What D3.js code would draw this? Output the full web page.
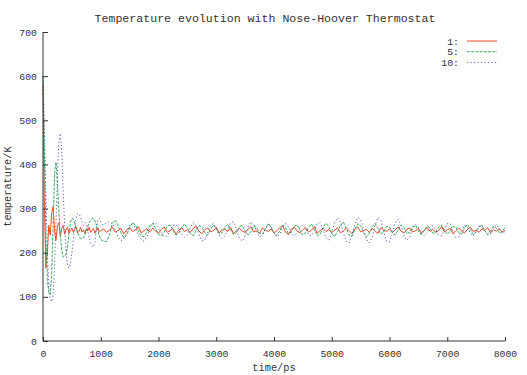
<!DOCTYPE html>
<html><head><meta charset="utf-8">
<script src="https://cdn.jsdelivr.net/npm/d3@7"></script>
<style>html,body{margin:0;padding:0;background:#fff;}svg{display:block;}</style>
</head><body>
<script>
const title = "Temperature evolution with Nose-Hoover Thermostat";
const xLabel = "time/ps";
const yLabel = "temperature/K";
const seriesNames = ["1:", "5:", "10:"];
const xTicks = [0,1000,2000,3000,4000,5000,6000,7000,8000];
const yTicks = [0,100,200,300,400,500,600,700];

const timeEarly = [0,25,50,75,100,125,150,175,200,225,250,275,300,325,350,375,400,425,450,475,500,525,550,575,600,625,650,675,700,725,750,775,800,825,850,875,900,925,950,975,1000];
const timeLate = [1050,1100,1150,1200,1250,1300,1350,1400,1450,1500,1550,1600,1650,1700,1750,1800,1850,1900,1950,2000,2050,2100,2150,2200,2250,2300,2350,2400,2450,2500,2550,2600,2650,2700,2750,2800,2850,2900,2950,3000,3050,3100,3150,3200,3250,3300,3350,3400,3450,3500,3550,3600,3650,3700,3750,3800,3850,3900,3950,4000,4050,4100,4150,4200,4250,4300,4350,4400,4450,4500,4550,4600,4650,4700,4750,4800,4850,4900,4950,5000,5050,5100,5150,5200,5250,5300,5350,5400,5450,5500,5550,5600,5650,5700,5750,5800,5850,5900,5950,6000,6050,6100,6150,6200,6250,6300,6350,6400,6450,6500,6550,6600,6650,6700,6750,6800,6850,6900,6950,7000,7050,7100,7150,7200,7250,7300,7350,7400,7450,7500,7550,7600,7650,7700,7750,7800,7850,7900,7950,8000];

const temp1 = [580,300,165,200,262,240,290,304,250,228,262,268,238,255,262,242,252,258,244,250,256,246,253,258,245,249,257,247,252,244,254,249,258,246,251,255,244,252,257,247,250,
254,246,251,258,247,250,255,243,252,257,
248,251,259,245,250,254,247,256,249,244,
253,258,246,250,255,242,251,257,248,252,
246,255,260,249,243,252,256,247,250,258,
245,251,254,248,257,243,250,255,249,246,
253,259,247,250,244,256,251,248,254,245,
250,257,262,246,241,253,258,249,245,252,
256,247,251,259,244,250,255,248,253,246,
251,257,245,249,256,250,243,254,258,247,
250,253,246,255,249,244,257,251,248,254,
246,252,258,249,245,253,256,247,250,255,
244,251,257,248,253,246,250,259,247,252,
255,243,250,256,249,245,253,258,248,251,
246,254,250,257,245,252,249,255,247,251];

const temp5 = [600,420,230,140,110,105,150,260,380,405,360,290,240,205,190,192,195,215,245,268,278,276,266,255,245,237,232,232,234,240,250,260,268,274,278,277,272,262,250,238,230,
226,225,240,266,274,262,245,234,240,256,
268,262,250,238,236,248,262,266,255,242,
238,247,260,263,252,240,244,257,265,256,
244,238,250,262,258,246,240,252,263,255,
243,245,258,264,252,241,246,259,262,249,
240,248,261,257,244,242,255,266,258,245,
239,250,262,256,243,247,260,263,250,240,
246,258,265,252,238,243,257,267,259,244,
236,248,262,270,256,240,237,252,266,261,
246,236,244,259,266,255,242,247,260,258,
245,240,252,263,257,243,246,259,262,249,
241,250,261,256,244,247,258,263,251,242,
248,260,258,245,243,256,264,253,241,247,
259,262,250,242,249,260,256,245,248,257];

const temp10 = [600,480,330,200,120,95,89,105,170,270,380,450,470,430,340,260,200,172,165,175,200,230,258,280,289,288,280,270,262,268,264,250,235,222,215,213,225,255,275,278,270,
262,268,270,266,252,236,227,232,248,262,
266,256,240,230,226,236,254,266,268,258,
244,236,238,250,262,264,254,242,235,240,
256,268,262,242,227,228,245,262,266,255,
240,232,238,254,268,270,254,232,226,238,
258,270,264,248,236,240,254,264,258,244,
236,242,258,266,260,246,238,244,256,262,
254,242,238,250,266,268,252,234,228,246,
268,279,270,246,226,222,240,264,280,276,
254,230,222,236,262,280,274,248,226,224,
244,268,276,262,238,228,236,254,264,258,
244,238,246,258,262,252,240,238,252,266,
266,248,234,236,250,262,258,244,238,248,
260,262,250,240,242,256,264,254,243,248];

const colors = ["#f04a26", "#3aad5c", "#5a5ac8"];
const dashes = [null, "3,1.2", "1.2,2.3"];

const W = 527, H = 375;
const margin = {left: 43, right: 22, top: 32, bottom: 34};
const svg = d3.select("body").append("svg").attr("width", W).attr("height", H);
const font = "'Liberation Mono', 'DejaVu Sans Mono', monospace";
const textColor = "#333";
const time = timeEarly.concat(timeLate);

const x = d3.scaleLinear().domain([0, 8000]).range([margin.left, W - margin.right]);
const y = d3.scaleLinear().domain([0, 700]).range([H - margin.bottom, margin.top]);

// series lines
const line = d3.line().x((d, i) => x(time[i])).y(d => y(d));
[temp1, temp5, temp10].forEach((s, k) => {
  svg.append("path").datum(s)
    .attr("d", line)
    .attr("fill", "none")
    .attr("stroke", colors[k])
    .attr("stroke-width", 1)
    .attr("stroke-dasharray", dashes[k]);
});

// axes
const axisColor = "#333";
const xAxis = svg.append("g").attr("transform", `translate(0,${y(0)})`)
  .call(d3.axisBottom(x).tickValues(xTicks).tickSize(-4).tickPadding(9).tickFormat(d3.format("d")));
const yAxis = svg.append("g").attr("transform", `translate(${x(0)},0)`)
  .call(d3.axisLeft(y).tickValues(yTicks).tickSize(-5).tickPadding(6).tickFormat(d3.format("d")));
[xAxis, yAxis].forEach(g => {
  g.select(".domain").attr("stroke", axisColor);
  g.selectAll(".tick line").attr("stroke", axisColor);
  g.selectAll("text").attr("font-family", font).attr("font-size", "9.8px").attr("fill", textColor);
});
xAxis.select(".domain").attr("d", `M${x(0)},0H${x(8000)}`);
yAxis.select(".domain").attr("d", `M0,${y(0)}V${y(700)}`);

// title
svg.append("text").attr("x", 265).attr("y", 22).attr("text-anchor", "middle")
  .attr("font-family", font).attr("font-size", "11.6px").attr("fill", textColor).text(title);
// axis labels
svg.append("text").attr("x", x(4000)).attr("y", 371).attr("text-anchor", "middle")
  .attr("font-family", font).attr("font-size", "10.3px").attr("fill", textColor).text(xLabel);
svg.append("text").attr("transform", `translate(11,${y(350)}) rotate(-90)`).attr("text-anchor", "middle")
  .attr("font-family", font).attr("font-size", "10.3px").attr("fill", textColor).text(yLabel);

// legend
const lg = svg.append("g");
seriesNames.forEach((n, k) => {
  const ly = 41 + k * 10.7;
  lg.append("text").attr("x", 459).attr("y", ly + 3.5).attr("text-anchor", "end")
    .attr("font-family", font).attr("font-size", "9.8px").attr("fill", textColor).text(n);
  lg.append("line").attr("x1", 467).attr("x2", 497).attr("y1", ly).attr("y2", ly)
    .attr("stroke", colors[k]).attr("stroke-width", 1).attr("stroke-dasharray", dashes[k]);
});
</script>
</body></html>
